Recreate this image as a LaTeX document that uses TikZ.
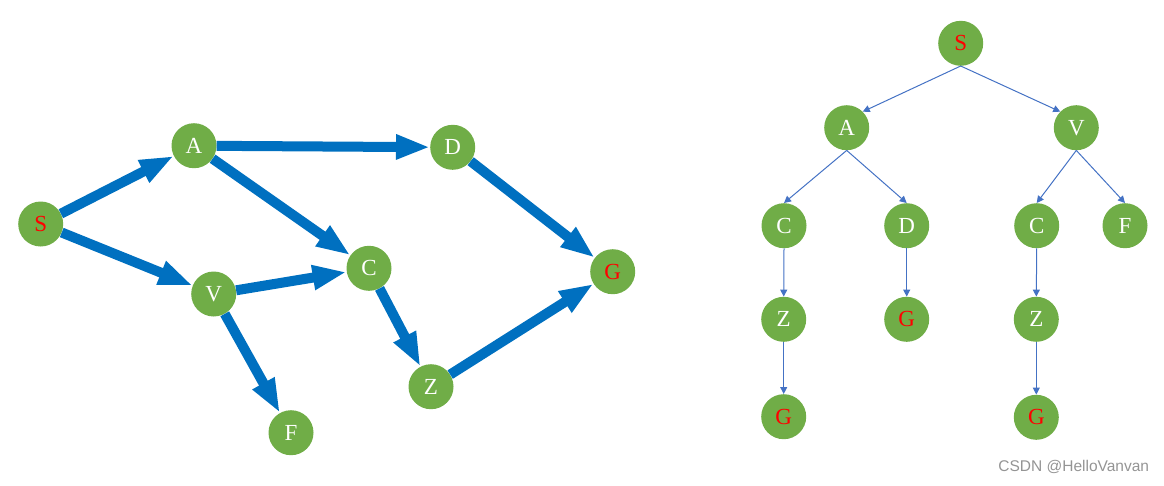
\documentclass[tikz,border=0pt]{standalone}
\usepackage{fontspec}
\setmainfont{Liberation Serif}
\newfontfamily\wmfont{Liberation Sans}
\usetikzlibrary{arrows.meta}
\definecolor{nodegreen}{HTML}{70AD47}
\definecolor{thickblue}{HTML}{0070C0}
\definecolor{thinblue}{HTML}{4472C4}
\begin{document}
\begin{tikzpicture}[x=1pt,y=-1pt,
  vert/.style={circle, fill=nodegreen, minimum size=45pt, inner sep=0pt, text=white, font=\fontsize{23}{23}\selectfont},
  goal/.style={vert, text=red},
  bigarrow/.style={draw=thickblue, line width=10pt, -{Triangle[length=34pt,width=23pt,fill=thickblue]}},
  smallarrow/.style={draw=thinblue, line width=1pt, -{Triangle[length=7pt,width=7pt,fill=thinblue]}},
  wm/.style={text=black!42, font=\wmfont\fontsize{15.5}{15.5}\selectfont, inner sep=0pt}]
\useasboundingbox (0,0) rectangle (1164,485);
% left graph
\node[goal] (S) at (40.7,224) {S};
\node[vert] (A) at (194,145.7) {A};
\node[vert] (D) at (452.7,147.3) {D};
\node[vert] (C) at (369,268.3) {C};
\node[vert] (V) at (213.7,294) {V};
\node[goal] (G) at (612.7,271.7) {G};
\node[vert] (Z) at (431,386.7) {Z};
\node[vert] (F) at (291,432.7) {F};
\draw[bigarrow] (S) -- (A);
\draw[bigarrow] (S) -- (V);
\draw[bigarrow] (A) -- (D);
\draw[bigarrow] (A) -- (C);
\draw[bigarrow] (V) -- (C);
\draw[bigarrow] (V) -- (F);
\draw[bigarrow] (D) -- (G);
\draw[bigarrow] (C) -- (Z);
\draw[bigarrow] (Z) -- (G);
% right tree
\node[goal] (tS) at (960.7,43.3) {S};
\node[vert] (tA) at (846.7,127.7) {A};
\node[vert] (tV) at (1076.3,127.7) {V};
\node[vert] (tC1) at (784,225.7) {C};
\node[vert] (tD) at (906.7,225.7) {D};
\node[vert] (tC2) at (1036.7,225.7) {C};
\node[vert] (tF) at (1125,225.7) {F};
\node[vert] (tZ1) at (783.7,319.3) {Z};
\node[goal] (tG1) at (906.7,319.3) {G};
\node[vert] (tZ2) at (1036.3,319.3) {Z};
\node[goal] (tG2) at (783.7,416.7) {G};
\node[goal] (tG3) at (1036.3,417.3) {G};
\draw[smallarrow] (tS.south) -- (tA.45);
\draw[smallarrow] (tS.south) -- (tV.135);
\draw[smallarrow] (tA.south) -- (tC1.north);
\draw[smallarrow] (tA.south) -- (tD.north);
\draw[smallarrow] (tV.south) -- (tC2.north);
\draw[smallarrow] (tV.south) -- (tF.north);
\draw[smallarrow] (tC1.south) -- (tZ1.north);
\draw[smallarrow] (tD.south) -- (tG1.north);
\draw[smallarrow] (tC2.south) -- (tZ2.north);
\draw[smallarrow] (tZ1.south) -- (tG2.north);
\draw[smallarrow] (tZ2.south) -- (tG3.north);
\node[wm, anchor=mid east] (wmk) at (1149.3,469.3) {CSDN @HelloVanvan};
\end{tikzpicture}
\end{document}
